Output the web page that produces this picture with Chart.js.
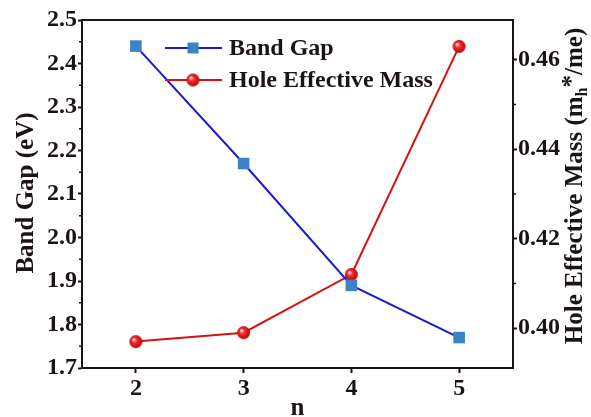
<!DOCTYPE html>
<html>
<head>
<meta charset="utf-8">
<script src="https://cdn.jsdelivr.net/npm/chart.js@4.4.1/dist/chart.umd.min.js"></script>
<style>
  html, body { margin: 0; padding: 0; background: #fff; }
  #wrap { width: 591px; height: 417px; position: relative; }
</style>
</head>
<body>
<div id="wrap"><canvas id="chart"></canvas></div>
<script>
// Data
const nValues = [2, 3, 4, 5];
const bandGap = [2.44, 2.17, 1.89, 1.77];
const holeMass = [0.397, 0.399, 0.412, 0.463];

// Tick positions
const xTicks = [2, 3, 4, 5];
const leftTicks = [1.7, 1.8, 1.9, 2.0, 2.1, 2.2, 2.3, 2.4, 2.5];
const leftMinor = [1.75, 1.85, 1.95, 2.05, 2.15, 2.25, 2.35, 2.45];
const rightTicks = [0.40, 0.42, 0.44, 0.46];
const rightMinor = [0.41, 0.43, 0.45];

const FONT = "'Liberation Serif', 'DejaVu Serif', serif";
const INK = '#1c1414';
const blueLine = '#1a1ad2';
const blueMark = '#3a84c6';
const redLine = '#d61212';

// shaded red ball used as the marker of the second series
function makeBall(r) {
    const c = document.createElement('canvas');
    c.width = c.height = Math.ceil(r * 2 + 2);
    const g = c.getContext('2d');
    const cx = c.width / 2, cy = c.height / 2;
    const grad = g.createRadialGradient(cx - r * 0.35, cy - r * 0.35, 0.5, cx, cy, r);
    grad.addColorStop(0, '#ffe0e0');
    grad.addColorStop(0.35, '#f23030');
    grad.addColorStop(1, '#c00000');
    g.fillStyle = grad;
    g.beginPath();
    g.arc(cx, cy, r, 0, Math.PI * 2);
    g.fill();
    return c;
}
const ball = makeBall(6.5);

const ctx = document.getElementById('chart').getContext('2d');

const chart = new Chart(ctx, {
    type: 'line',
    data: {
        datasets: [
            {
                label: 'Band Gap',
                data: nValues.map((n, i) => ({ x: n, y: bandGap[i] })),
                yAxisID: 'y',
                borderColor: blueLine,
                borderWidth: 2,
                pointStyle: 'rect',
                pointRadius: 8.2,
                pointBackgroundColor: blueMark,
                pointBorderColor: blueMark,
                pointBorderWidth: 0,
                tension: 0
            },
            {
                label: 'Hole Effective Mass',
                data: nValues.map((n, i) => ({ x: n, y: holeMass[i] })),
                yAxisID: 'y1',
                borderColor: redLine,
                borderWidth: 2,
                pointStyle: ball,
                pointRadius: 6.5,
                tension: 0
            }
        ]
    },
    options: {
        responsive: true,
        maintainAspectRatio: false,
        animation: false,
        layout: { padding: { top: 20, left: 0, right: 0, bottom: 0 } },
        plugins: {
            legend: { display: false },
            tooltip: { enabled: false }
        },
        scales: {
            x: {
                type: 'linear',
                min: 1.5,
                max: 5.5,
                afterBuildTicks: s => { s.ticks = xTicks.map(v => ({ value: v })); },
                afterFit: s => { s.height = 49; },
                border: { display: true, color: INK, width: 2 },
                grid: { drawOnChartArea: false, drawTicks: true, tickLength: 5, tickColor: INK, tickWidth: 2 },
                ticks: {
                    color: INK,
                    padding: 1,
                    maxRotation: 0,
                    font: { family: FONT, size: 24, weight: 'bold' },
                    callback: v => String(v)
                }
            },
            y: {
                type: 'linear',
                position: 'left',
                min: 1.7,
                max: 2.5,
                afterBuildTicks: s => { s.ticks = leftTicks.map(v => ({ value: v })); },
                afterFit: s => { s.width = 82; },
                border: { display: true, color: INK, width: 2 },
                grid: { drawOnChartArea: false, drawTicks: true, tickLength: 4, tickColor: INK, tickWidth: 2 },
                ticks: {
                    color: INK,
                    padding: 1,
                    font: { family: FONT, size: 24, weight: 'bold' },
                    callback: v => v.toFixed(1)
                }
            },
            y1: {
                type: 'linear',
                position: 'right',
                min: 0.3911,
                max: 0.4689,
                afterBuildTicks: s => { s.ticks = rightTicks.map(v => ({ value: v })); },
                afterFit: s => { s.width = 78; },
                border: { display: true, color: INK, width: 2 },
                grid: { drawOnChartArea: false, drawTicks: true, tickLength: 4, tickColor: INK, tickWidth: 2 },
                ticks: {
                    color: INK,
                    padding: 1,
                    font: { family: FONT, size: 24, weight: 'bold' },
                    callback: v => v.toFixed(2)
                }
            }
        }
    },
    plugins: [{
        id: 'frameAndText',
        afterDraw(chart) {
            const c = chart.ctx;
            const a = chart.chartArea;
            const ys = chart.scales.y, y1 = chart.scales.y1;
            const midY = (a.top + a.bottom) / 2;

            c.save();
            // top border of the frame
            c.strokeStyle = INK;
            c.lineWidth = 2;
            c.beginPath();
            c.moveTo(a.left - 1, a.top);
            c.lineTo(a.right + 1, a.top);
            c.stroke();

            // minor ticks
            c.lineWidth = 1.5;
            c.beginPath();
            leftMinor.forEach(v => {
                const p = ys.getPixelForValue(v);
                c.moveTo(a.left, p);
                c.lineTo(a.left - 3, p);
            });
            rightMinor.forEach(v => {
                const p = y1.getPixelForValue(v);
                c.moveTo(a.right, p);
                c.lineTo(a.right + 3, p);
            });
            c.stroke();

            // axis titles
            c.fillStyle = INK;
            c.font = 'bold 25px ' + FONT;
            c.textAlign = 'center';
            c.textBaseline = 'alphabetic';
            c.fillText('n', (a.left + a.right) / 2, 415);

            c.save();
            c.translate(33, midY - 1);
            c.rotate(-Math.PI / 2);
            c.fillText('Band Gap (eV)', 0, 0);
            c.restore();

            // right title with subscript h
            const big = 'bold 25px ' + FONT;
            const small = 'bold 16px ' + FONT;
            const parts = [
                { t: 'Hole Effective Mass (m', f: big, dy: 0 },
                { t: 'h', f: small, dy: 5 },
                { t: '*', f: big, dy: -3 },
                { t: '/me)', f: big, dy: 0 }
            ];
            let total = 0;
            parts.forEach(p => { c.font = p.f; p.w = c.measureText(p.t).width; total += p.w; });
            c.save();
            c.translate(582, midY - 8);
            c.rotate(-Math.PI / 2);
            c.textAlign = 'left';
            let xx = -total / 2;
            parts.forEach(p => {
                c.font = p.f;
                c.fillText(p.t, xx, p.dy);
                xx += p.w;
            });
            c.restore();

            // legend
            const rows = [
                { y: 48, color: blueLine, label: 'Band Gap', mark: 'rect' },
                { y: 80, color: redLine, label: 'Hole Effective Mass', mark: 'ball' }
            ];
            rows.forEach(r => {
                c.strokeStyle = r.color;
                c.lineWidth = 2;
                c.beginPath();
                c.moveTo(165, r.y);
                c.lineTo(222, r.y);
                c.stroke();
                if (r.mark === 'rect') {
                    c.fillStyle = blueMark;
                    c.fillRect(193 - 5.5, r.y - 5.5, 11, 11);
                } else {
                    c.drawImage(ball, 193 - ball.width / 2, r.y - ball.height / 2);
                }
                c.fillStyle = INK;
                c.font = 'bold 24px ' + FONT;
                c.textAlign = 'left';
                c.textBaseline = 'middle';
                c.fillText(r.label, 229, r.y + 1);
            });
            c.restore();
        }
    }]
});
</script>
</body>
</html>
